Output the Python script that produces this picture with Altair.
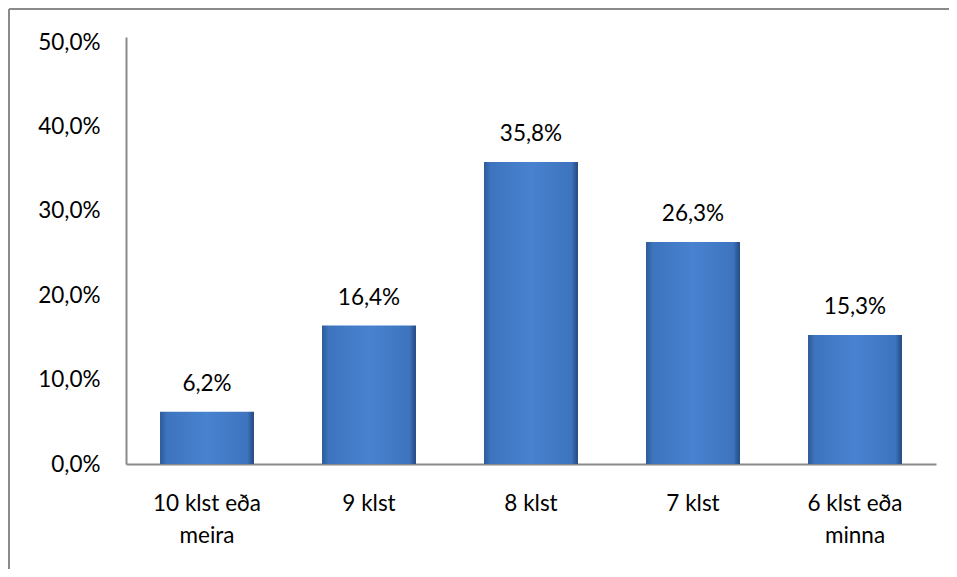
import altair as alt
import pandas as pd

categories = ["10 klst eða\nmeira", "9 klst", "8 klst", "7 klst", "6 klst eða\nminna"]
values = [6.2, 16.4, 35.8, 26.3, 15.3]
y_ticks = [0, 10, 20, 30, 40, 50]

df = pd.DataFrame({"cat": categories, "v": values})

FONT = "Lato"
FS = 22.5
AXIS_GRAY = "#8a8a8a"

grad = alt.Gradient(
    gradient="linear",
    stops=[
        alt.GradientStop(color="#2c5a96", offset=0),
        alt.GradientStop(color="#3e74be", offset=0.07),
        alt.GradientStop(color="#4882d0", offset=0.5),
        alt.GradientStop(color="#3e74be", offset=0.93),
        alt.GradientStop(color="#22497f", offset=1),
    ],
    x1=0, x2=1, y1=0, y2=0,
)

base = alt.Chart(df).encode(
    x=alt.X(
        "cat:N",
        sort=categories,
        scale=alt.Scale(paddingInner=0.42, paddingOuter=0.21),
        axis=alt.Axis(
            title=None,
            labelAngle=0,
            ticks=False,
            labelPadding=28,
            labelFont=FONT,
            labelFontSize=FS,
            labelColor="#000000",
            labelLineHeight=32,
            labelExpr="split(datum.value, '\\n')",
            domainColor=AXIS_GRAY,
            domainWidth=2,
        ),
    ),
    y=alt.Y(
        "v:Q",
        scale=alt.Scale(domain=[0, 50.6], nice=False),
        axis=alt.Axis(
            title=None,
            values=y_ticks,
            grid=False,
            ticks=False,
            labelPadding=26,
            labelFont=FONT,
            labelFontSize=FS,
            labelColor="#000000",
            labelExpr="replace(format(datum.value, '.1f'), '.', ',') + '%'",
            domainColor=AXIS_GRAY,
            domainWidth=2,
        ),
    ),
)

bars = base.mark_bar(color=grad)

labels = base.transform_calculate(
    lab="replace(format(datum.v, '.1f'), '.', ',') + '%'"
).mark_text(
    font=FONT, fontSize=FS, color="#000000", baseline="bottom", dy=-16
).encode(text="lab:N")

border_left = alt.Chart(df).mark_rule(color=AXIS_GRAY, strokeWidth=2).encode(
    x=alt.value(-117), y=alt.value(-28), y2=alt.value(560)
)
border_top = alt.Chart(df).mark_rule(color=AXIS_GRAY, strokeWidth=2).encode(
    x=alt.value(-117), x2=alt.value(830), y=alt.value(-28)
)

chart = alt.layer(bars, labels, border_left, border_top).properties(
    width=810,
    height=427,
    background="#ffffff",
    padding={"left": 118, "top": 29, "right": 13, "bottom": 105},
    autosize=alt.AutoSizeParams(type="none"),
).configure_view(strokeWidth=0, stroke="transparent")

chart.save("out.html", embed_options={"renderer": "svg", "actions": False})
